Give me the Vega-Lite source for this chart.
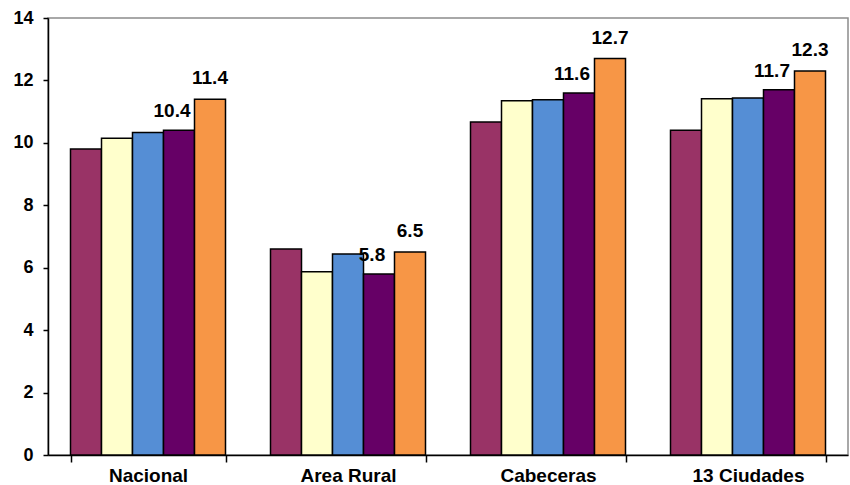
{
  "$schema": "https://vega.github.io/schema/vega-lite/v6.json",
  "width": 800,
  "height": 437,
  "autosize": {"type": "none"},
  "padding": {"left": 48, "top": 18, "right": 2, "bottom": 30},
  "background": "white",
  "config": {
    "view": {"stroke": "#8c8c8c", "strokeWidth": 1.5},
    "font": "Liberation Sans"
  },
  "data": {
    "values": [
      {"region": "Nacional", "serie": "S1", "valor": 9.8},
      {"region": "Nacional", "serie": "S2", "valor": 10.15},
      {"region": "Nacional", "serie": "S3", "valor": 10.33},
      {"region": "Nacional", "serie": "S4", "valor": 10.4},
      {"region": "Nacional", "serie": "S5", "valor": 11.4},
      {"region": "Area Rural", "serie": "S1", "valor": 6.6},
      {"region": "Area Rural", "serie": "S2", "valor": 5.87},
      {"region": "Area Rural", "serie": "S3", "valor": 6.44},
      {"region": "Area Rural", "serie": "S4", "valor": 5.8},
      {"region": "Area Rural", "serie": "S5", "valor": 6.5},
      {"region": "Cabeceras", "serie": "S1", "valor": 10.67},
      {"region": "Cabeceras", "serie": "S2", "valor": 11.35},
      {"region": "Cabeceras", "serie": "S3", "valor": 11.38},
      {"region": "Cabeceras", "serie": "S4", "valor": 11.6},
      {"region": "Cabeceras", "serie": "S5", "valor": 12.7},
      {"region": "13 Ciudades", "serie": "S1", "valor": 10.4},
      {"region": "13 Ciudades", "serie": "S2", "valor": 11.41},
      {"region": "13 Ciudades", "serie": "S3", "valor": 11.44},
      {"region": "13 Ciudades", "serie": "S4", "valor": 11.7},
      {"region": "13 Ciudades", "serie": "S5", "valor": 12.3}
    ]
  },
  "encoding": {
    "x": {
      "field": "region",
      "type": "nominal",
      "sort": null,
      "title": null,
      "scale": {"paddingInner": 0.225, "paddingOuter": 0.1125},
      "axis": {
        "labelAngle": 0,
        "labelFont": "Liberation Sans",
        "labelFontSize": 19,
        "labelFontWeight": "bold",
        "labelColor": "black",
        "labelPadding": 4,
        "tickBand": "extent",
        "tickSize": 7,
        "tickColor": "black",
        "tickWidth": 1.5,
        "domainColor": "black",
        "domainWidth": 1.5
      }
    },
    "xOffset": {"field": "serie", "type": "nominal", "sort": null, "scale": {"paddingInner": 0, "paddingOuter": 0}},
    "y": {
      "field": "valor",
      "type": "quantitative",
      "title": null,
      "scale": {"domain": [0, 14], "nice": false},
      "axis": {
        "values": [0, 2, 4, 6, 8, 10, 12, 14],
        "grid": false,
        "labelFont": "Liberation Sans",
        "labelFontSize": 18,
        "labelFontWeight": "bold",
        "labelColor": "black",
        "labelPadding": 10,
        "tickSize": 5,
        "tickColor": "black",
        "tickWidth": 1.5,
        "domainColor": "black",
        "domainWidth": 1.5
      }
    }
  },
  "layer": [
    {
      "mark": {"type": "bar", "stroke": "black", "strokeWidth": 1.5},
      "encoding": {
        "color": {
          "field": "serie",
          "type": "nominal",
          "legend": null,
          "scale": {
            "domain": ["S1", "S2", "S3", "S4", "S5"],
            "range": ["#993366", "#FFFFCC", "#558ED5", "#660066", "#F79646"]
          }
        }
      }
    },
    {
      "transform": [{"filter": "datum.serie === 'S4'"}],
      "mark": {"type": "text", "baseline": "bottom", "dy": -9, "dx": -7, "fontSize": 19, "fontWeight": "bold", "color": "black", "font": "Liberation Sans"},
      "encoding": {"text": {"field": "valor", "type": "quantitative", "format": ".1f"}}
    },
    {
      "transform": [{"filter": "datum.serie === 'S5'"}],
      "mark": {"type": "text", "baseline": "bottom", "dy": -11, "fontSize": 19, "fontWeight": "bold", "color": "black", "font": "Liberation Sans"},
      "encoding": {"text": {"field": "valor", "type": "quantitative", "format": ".1f"}}
    }
  ]
}
